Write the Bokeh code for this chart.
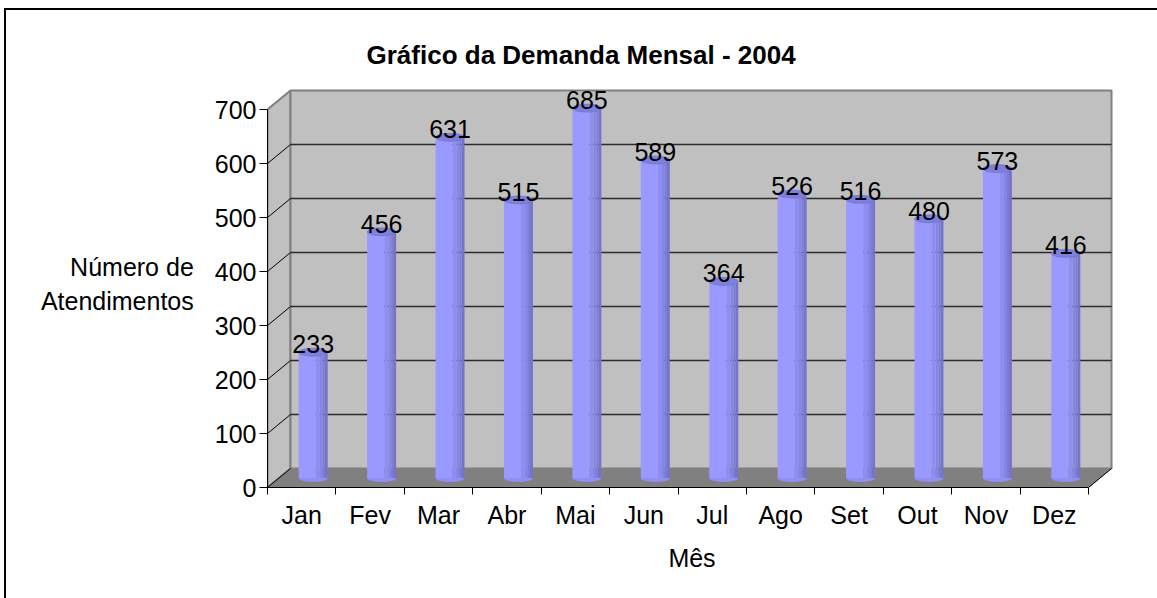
from bokeh.plotting import figure
from bokeh.models import FixedTicker, Range1d, CustomJSTickFormatter, InlineStyleSheet
from bokeh.embed import file_html
from bokeh.resources import INLINE
from bokeh.core.properties import value

# ---- data ----
months = ["Jan", "Fev", "Mar", "Abr", "Mai", "Jun", "Jul", "Ago", "Set", "Out", "Nov", "Dez"]
demand = [233, 456, 631, 515, 685, 589, 364, 526, 516, 480, 573, 416]
y_ticks = [0, 100, 200, 300, 400, 500, 600, 700]
title_text = "Gráfico da Demanda Mensal - 2004"
y_label = "Número de\nAtendimentos"
x_label = "Mês"

# ---- layout / style ----
FONT = "Liberation Sans"
W, H = 1141, 582
ML, MT = 267, 80
FRAME_RIGHT = 1116
FRAME_BOTTOM = 487
MR = W - FRAME_RIGHT
MB = H - FRAME_BOTTOM
CAT_PX = 68.42
VAL_PX = 0.54
n = len(months)
ymax = max(y_ticks)
D = 23 / CAT_PX          # depth offset in category units
E = 19 / VAL_PX          # depth offset in value units

frame_w = FRAME_RIGHT - ML
frame_h = FRAME_BOTTOM - MT

p = figure(width=W, height=H,
           x_range=Range1d(0, frame_w / CAT_PX),
           y_range=Range1d(0, frame_h / VAL_PX),
           output_backend="svg", toolbar_location=None,
           min_border_left=ML, min_border_right=MR,
           min_border_top=MT, min_border_bottom=MB)
p.background_fill_color = None
p.border_fill_color = None
p.outline_line_color = None
p.xgrid.visible = False
p.ygrid.visible = False

# outer chart border: only its top and left edges fall inside the picture
p.stylesheets = [InlineStyleSheet(css=(
    ":host::after { content: ''; position: absolute; left: 4px; top: 8px; right: -20px; bottom: -20px;"
    " border-left: 2px solid #000000; border-top: 2px solid #000000; pointer-events: none; }"
))]

WALL = "#c0c0c0"
EDGE = "#808080"

# walls
p.patch([0, D, D, 0], [0, E, ymax + E, ymax], fill_color=WALL, line_color=EDGE, line_width=2)
p.quad(left=[D], right=[n + D], bottom=[E], top=[ymax + E], fill_color=WALL, line_color=EDGE, line_width=2)
p.patch([0, n, n + D, D], [0, 0, E, E], fill_color=EDGE, line_color=EDGE, line_width=1)

inner = [t for t in y_ticks if 0 < t < ymax]
p.segment(x0=[D] * len(inner), x1=[n + D] * len(inner), y0=[t + E for t in inner], y1=[t + E for t in inner],
          line_color="#2b2b2b", line_width=1.5)
p.segment(x0=[0] * len(inner), x1=[D] * len(inner), y0=inner, y1=[t + E for t in inner],
          line_color="#000000", line_width=1)
p.segment(x0=[0, n], x1=[D, n + D], y0=[0, 0], y1=[E, E], line_color="#000000", line_width=1)

# cylinders
centers = [i + 0.5 + D / 2 for i in range(n)]
base = E / 2
tops = [v + E / 2 for v in demand]
bw = 29 / CAT_PX
ell_h = 8 / VAL_PX

p.ellipse(x=centers, y=[base] * n, width=bw, height=ell_h, fill_color="#9090f2", line_color=None)
strips = [(0.0, 0.59, "#9999ff"), (0.59, 0.73, "#8e8ef0"), (0.73, 0.83, "#8585e4"),
          (0.83, 0.90, "#7c7cd8"), (0.90, 1.0, "#7474cc")]
for f0, f1, col in strips:
    p.vbar(x=[c - bw / 2 + (f0 + f1) / 2 * bw for c in centers], width=(f1 - f0) * bw,
           bottom=base, top=tops, fill_color=col, line_color=None)
p.ellipse(x=centers, y=tops, width=bw, height=ell_h, fill_color="#7f7fdc", line_color="#7070c8", line_width=0.6)

p.text(x=centers, y=tops, text=[str(v) for v in demand], text_align="center", text_baseline="alphabetic",
       y_offset=-8, text_font=value(FONT), text_font_size="25px", text_color="#000000")

# axes
xa = p.xaxis[0]
xa.ticker = FixedTicker(ticks=[i + 0.5 for i in range(n)], minor_ticks=list(range(n + 1)))
xa.formatter = CustomJSTickFormatter(args=dict(months=months), code="return months[Math.floor(tick)] || '';")
xa.bounds = (0, n)
xa.major_tick_out = 0
xa.major_tick_in = 0
xa.minor_tick_out = 7
xa.minor_tick_in = 0
xa.minor_tick_line_color = "#000000"
xa.axis_line_color = "#000000"
xa.major_label_standoff = 6
xa.major_label_text_font = FONT
xa.major_label_text_font_size = "25px"
xa.major_label_text_color = "#000000"
xa.axis_label = x_label
xa.axis_label_text_font = FONT
xa.axis_label_text_font_size = "25px"
xa.axis_label_text_font_style = "normal"
xa.axis_label_text_color = "#000000"
xa.axis_label_standoff = 12

ya = p.yaxis[0]
ya.ticker = FixedTicker(ticks=y_ticks, minor_ticks=[])
ya.bounds = (0, ymax)
ya.major_tick_out = 8
ya.major_tick_in = 0
ya.minor_tick_out = 0
ya.minor_tick_in = 0
ya.major_tick_line_color = "#000000"
ya.axis_line_color = "#000000"
ya.major_label_standoff = 3
ya.major_label_text_font = FONT
ya.major_label_text_font_size = "25px"
ya.major_label_text_color = "#000000"
ya.axis_label = y_label
ya.axis_label_orientation = "horizontal"
ya.axis_label_text_font = FONT
ya.axis_label_text_font_size = "25px"
ya.axis_label_text_font_style = "normal"
ya.axis_label_text_color = "#000000"
ya.axis_label_standoff = 18

p.title.text = title_text
p.title.align = "left"
p.title.offset = 99
p.title.text_font = FONT
p.title.text_font_size = "26px"
p.title.text_font_style = "bold"
p.title.text_color = "#000000"
p.title.standoff = 21

open("out.html", "w").write(file_html(p, INLINE))
